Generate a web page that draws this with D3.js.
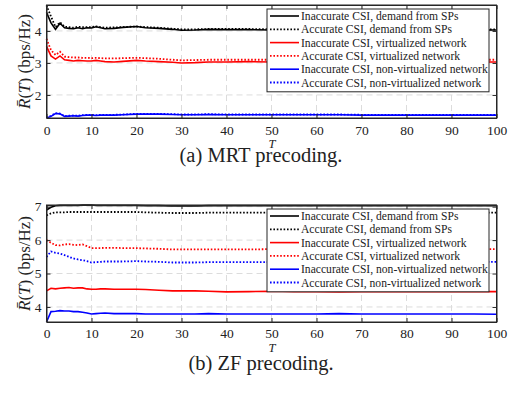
<!DOCTYPE html>
<html>
<head>
<meta charset="utf-8">
<script src="https://cdn.jsdelivr.net/npm/d3@7"></script>
<style>
	body { margin: 0; background: #fff; }
	svg { display: block; }
	text { font-family: "Liberation Serif", "Times New Roman", serif; fill: #222; }
</style>
</head>
<body>
<svg id="chart"></svg>
<script>
const T = [0,1,2,3,4,5,6,7,8,9,10,11,12,13,15,17,20,22,25,28,30,33,36,40,45,50,55,60,65,70,75,80,85,90,95,100];

const legendLabels = [
	"Inaccurate CSI, demand from SPs",
	"Accurate CSI, demand from SPs",
	"Inaccurate CSI, virtualized network",
	"Accurate CSI, virtualized network",
	"Inaccurate CSI, non-virtualized network",
	"Accurate CSI, non-virtualized network"
];
const xTicks = [0,10,20,30,40,50,60,70,80,90,100];

// (a) MRT precoding
const mrtDemandInacc = [4.58,4.25,4.05,4.24,4.10,4.08,4.07,4.10,4.07,4.10,4.09,4.13,4.10,4.07,4.08,4.11,4.14,4.10,4.08,4.05,4.02,4.03,4.05,4.04,4.04,4.03,4.03,4.04,4.03,4.04,4.03,4.03,4.03,4.03,4.03,4.03];
const mrtDemandAcc   = [4.80,4.45,4.12,4.27,4.13,4.12,4.10,4.13,4.12,4.12,4.12,4.14,4.12,4.10,4.11,4.12,4.14,4.12,4.10,4.07,4.05,4.05,4.06,4.06,4.06,4.05,4.05,4.06,4.05,4.05,4.05,4.05,4.05,4.05,4.05,4.05];
const mrtVirtInacc   = [3.52,3.22,3.12,3.22,3.10,3.08,3.06,3.08,3.07,3.06,3.06,3.08,3.06,3.04,3.03,3.05,3.08,3.06,3.04,3.02,3.00,3.01,3.03,3.03,3.04,3.03,3.03,3.04,3.03,3.03,3.03,3.03,3.03,3.03,3.03,3.03];
const mrtVirtAcc     = [3.75,3.40,3.25,3.35,3.20,3.18,3.17,3.17,3.16,3.16,3.15,3.16,3.15,3.14,3.14,3.15,3.16,3.15,3.13,3.10,3.08,3.09,3.10,3.10,3.10,3.10,3.10,3.11,3.10,3.10,3.10,3.10,3.10,3.10,3.10,3.10];
const mrtNonInacc    = [1.28,1.33,1.42,1.41,1.33,1.34,1.35,1.34,1.36,1.37,1.37,1.36,1.37,1.37,1.37,1.38,1.40,1.40,1.40,1.39,1.38,1.38,1.39,1.38,1.38,1.38,1.38,1.38,1.38,1.37,1.37,1.37,1.37,1.37,1.37,1.37];
const mrtNonAcc      = [1.29,1.35,1.43,1.42,1.34,1.35,1.36,1.35,1.37,1.38,1.38,1.37,1.38,1.38,1.38,1.39,1.41,1.41,1.41,1.40,1.39,1.39,1.40,1.39,1.39,1.39,1.39,1.39,1.39,1.38,1.38,1.38,1.38,1.38,1.38,1.38];

// (b) ZF precoding
const zfDemandInacc = [6.90,6.98,7.03,7.04,7.04,7.04,7.04,7.04,7.05,7.05,7.05,7.04,7.04,7.04,7.04,7.04,7.04,7.03,7.03,7.02,7.02,7.02,7.03,7.03,7.03,7.03,7.03,7.03,7.03,7.03,7.03,7.03,7.03,7.03,7.03,7.03];
const zfDemandAcc   = [6.74,6.80,6.83,6.83,6.83,6.84,6.84,6.84,6.84,6.84,6.84,6.84,6.84,6.84,6.84,6.84,6.84,6.83,6.82,6.81,6.81,6.81,6.82,6.82,6.82,6.82,6.82,6.82,6.82,6.82,6.82,6.82,6.82,6.82,6.82,6.82];
const zfVirtInacc   = [4.48,4.56,4.54,4.56,4.57,4.58,4.56,4.57,4.57,4.54,4.53,4.53,4.54,4.54,4.53,4.53,4.53,4.52,4.50,4.48,4.48,4.48,4.47,4.45,4.46,4.47,4.46,4.46,4.45,4.46,4.46,4.46,4.46,4.46,4.46,4.46];
const zfVirtAcc     = [6.00,5.92,5.85,5.84,5.87,5.88,5.86,5.85,5.87,5.82,5.76,5.76,5.76,5.77,5.77,5.76,5.76,5.75,5.74,5.72,5.72,5.72,5.72,5.72,5.72,5.73,5.73,5.73,5.73,5.73,5.73,5.73,5.73,5.73,5.73,5.73];
const zfNonInacc    = [3.55,3.86,3.87,3.89,3.88,3.88,3.86,3.86,3.84,3.82,3.79,3.80,3.81,3.82,3.80,3.80,3.80,3.79,3.79,3.79,3.79,3.79,3.80,3.79,3.79,3.79,3.79,3.79,3.80,3.79,3.79,3.79,3.79,3.79,3.79,3.78];
const zfNonAcc      = [5.50,5.66,5.62,5.60,5.55,5.50,5.45,5.42,5.40,5.37,5.33,5.34,5.35,5.36,5.36,5.36,5.37,5.36,5.35,5.33,5.33,5.33,5.34,5.34,5.34,5.34,5.34,5.35,5.36,5.35,5.35,5.35,5.35,5.35,5.35,5.35];

const colors = ["#000", "#000", "#ff0000", "#ff0000", "#0000ff", "#0000ff"];
const dotted = [false, true, false, true, false, true];

const W = 514, H = 399;
const left = 46.5, right = 496.5;
const serif = "'Liberation Serif', 'Times New Roman', serif";

const svg = d3.select("#chart").attr("width", W).attr("height", H);

function drawPanel(cfg) {
	const x = d3.scaleLinear().domain([0, 100]).range([left, right]);
	const y = d3.scaleLinear().domain(cfg.yDomain).range([cfg.bottom, cfg.top]);
	const g = svg.append("g");

	// grid
	g.append("g").selectAll("line")
		.data(xTicks.slice(1, -1))
		.enter().append("line")
			.attr("x1", d => x(d)).attr("x2", d => x(d))
			.attr("y1", cfg.top).attr("y2", cfg.bottom)
			.attr("stroke", "#dcdcdc").attr("stroke-dasharray", "6,4");
	g.append("g").selectAll("line")
		.data(cfg.yTicks)
		.enter().append("line")
			.attr("x1", left).attr("x2", right)
			.attr("y1", d => y(d)).attr("y2", d => y(d))
			.attr("stroke", "#dcdcdc").attr("stroke-dasharray", "6,4");

	// lines
	const line = d3.line().x((d, i) => x(T[i])).y(d => y(d));
	cfg.series.forEach((s, i) => {
		g.append("path")
			.datum(s)
			.attr("d", line)
			.attr("fill", "none")
			.attr("stroke", colors[i])
			.attr("stroke-width", dotted[i] ? 1.8 : 1.6)
			.attr("stroke-dasharray", dotted[i] ? "1.6,1.8" : null);
	});

	// axes, ticks inward on all four sides
	const xa = d3.axisBottom(x).tickValues(xTicks).tickSize(-4).tickSizeOuter(0).tickPadding(cfg.xPad);
	g.append("g").attr("transform", `translate(0,${cfg.bottom})`).call(xa)
		.attr("font-family", serif).attr("font-size", 13.5);
	const xt = d3.axisTop(x).tickValues(xTicks).tickSize(-4).tickSizeOuter(0).tickFormat("");
	g.append("g").attr("transform", `translate(0,${cfg.top})`).call(xt);
	const ya = d3.axisLeft(y).tickValues(cfg.yTicks).tickSize(-4).tickSizeOuter(0).tickPadding(5).tickFormat(d3.format("d"));
	g.append("g").attr("transform", `translate(${left},0)`).call(ya)
		.attr("font-family", serif).attr("font-size", 13.5);
	const yr = d3.axisRight(y).tickValues(cfg.yTicks).tickSize(-4).tickSizeOuter(0).tickFormat("");
	g.append("g").attr("transform", `translate(${right},0)`).call(yr);
	g.selectAll(".domain").attr("stroke", "#262626");
	g.selectAll(".tick line").attr("stroke", "#262626");
	g.selectAll(".tick text").attr("fill", "#222").style("font-family", serif);
	g.append("rect")
		.attr("x", left).attr("y", cfg.top)
		.attr("width", right - left).attr("height", cfg.bottom - cfg.top)
		.attr("fill", "none").attr("stroke", "#262626").attr("stroke-width", 1);

	// axis labels
	g.append("text")
		.attr("x", (left + right) / 2 + 0.5).attr("y", cfg.bottom + 29.5)
		.attr("text-anchor", "middle")
		.style("font-size", "12.5px").style("font-style", "italic")
		.text("T");
	const yl = g.append("text")
		.attr("transform", `translate(30,${(cfg.top + cfg.bottom) / 2}) rotate(-90)`)
		.attr("text-anchor", "middle")
		.style("font-size", "17px");
	yl.append("tspan").style("font-style", "italic").text("R\u0304");
	yl.append("tspan").text("(");
	yl.append("tspan").style("font-style", "italic").text("T");
	yl.append("tspan").text(") (bps/Hz)");

	// legend
	const lx = 267, lw = 222, rowH = 13.3;
	const lg = g.append("g");
	lg.append("rect")
		.attr("x", lx).attr("y", cfg.legendTop)
		.attr("width", lw).attr("height", rowH * 6 + 3)
		.attr("fill", "#fff").attr("stroke", "#262626").attr("stroke-width", 1);
	legendLabels.forEach((lab, i) => {
		const ry = cfg.legendTop + 7 + rowH * i;
		lg.append("line")
			.attr("x1", lx + 3).attr("x2", lx + 32)
			.attr("y1", ry).attr("y2", ry)
			.attr("stroke", colors[i])
			.attr("stroke-width", dotted[i] ? 1.8 : 1.6)
			.attr("stroke-dasharray", dotted[i] ? "1.6,1.8" : null);
		lg.append("text")
			.attr("x", lx + 34).attr("y", ry + 4)
			.style("font-size", "11.6px")
			.text(lab);
	});

	// caption
	svg.append("text")
		.attr("x", 261).attr("y", cfg.captionY)
		.attr("text-anchor", "middle")
		.style("font-size", "20.5px")
		.text(cfg.caption);
}

drawPanel({
	top: 5, bottom: 118,
	yDomain: [1.28, 4.81], yTicks: [2, 3, 4],
	series: [mrtDemandInacc, mrtDemandAcc, mrtVirtInacc, mrtVirtAcc, mrtNonInacc, mrtNonAcc],
	legendTop: 9, xPad: 7, caption: "(a) MRT precoding.", captionY: 162
});

drawPanel({
	top: 205, bottom: 322,
	yDomain: [3.55, 7.05], yTicks: [4, 5, 6, 7],
	series: [zfDemandInacc, zfDemandAcc, zfVirtInacc, zfVirtAcc, zfNonInacc, zfNonAcc],
	legendTop: 209, xPad: 6, caption: "(b) ZF precoding.", captionY: 370
});
</script>
</body>
</html>
